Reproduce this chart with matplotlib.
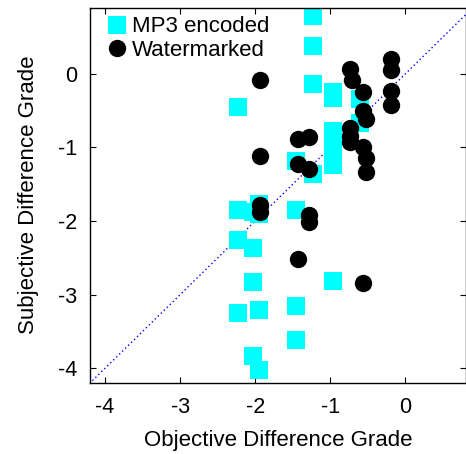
import matplotlib
matplotlib.use("Agg")
import matplotlib.pyplot as plt
import numpy as np

plt.rcParams['font.family'] = ['Liberation Sans', 'DejaVu Sans']

# MP3 encoded (cyan squares)
mp3_odg = [-1.23, -1.23, -1.23, -0.97, -0.97, -2.23, -0.97, -0.97, -0.97, -0.61, -0.61,
           -1.46, -1.23, -2.23, -1.95, -1.95, -2.03, -1.46, -2.23, -2.03, -2.03, -0.97,
           -2.23, -1.95, -1.46, -1.46, -2.03, -1.95]
mp3_sdg = [0.79, 0.38, -0.14, -0.25, -0.33, -0.45, -0.78, -1.01, -1.24, -0.34, -0.67,
           -1.19, -1.36, -1.85, -1.77, -1.91, -1.88, -1.85, -2.26, -2.36, -2.83, -2.81,
           -3.25, -3.21, -3.16, -3.61, -3.84, -4.02]

# Watermarked (black circles)
wm_odg = [-1.93, -0.74, -0.71, -0.57, -0.57, -0.52, -0.19, -0.19, -0.19, -0.19, -0.74,
          -0.74, -0.74, -0.57, -0.52, -0.52, -1.43, -1.28, -1.93, -1.43, -1.28, -1.93,
          -1.93, -1.28, -1.28, -1.43, -0.57]
wm_sdg = [-0.08, 0.06, -0.08, -0.25, -0.50, -0.62, 0.20, 0.05, -0.23, -0.42, -0.74,
          -0.85, -0.93, -0.99, -1.15, -1.34, -0.88, -0.86, -1.12, -1.22, -1.29, -1.78,
          -1.88, -1.92, -2.01, -2.51, -2.84]

x_ticks = [-4, -3, -2, -1, 0]
y_ticks = [-4, -3, -2, -1, 0]
xlim = (-4.2, 0.8)
ylim = (-4.2, 0.9)

fig = plt.figure(figsize=(4.66, 4.54), dpi=100)
ax = fig.add_axes([90/466, 71/454, 375.5/466, 375.5/454])

ax.plot(mp3_odg, mp3_sdg, linestyle='none', marker='s', markersize=13,
        color='#00ffff', markeredgewidth=0, label='MP3 encoded')
ax.plot(wm_odg, wm_sdg, linestyle='none', marker='o', markersize=12.5,
        color='black', markeredgewidth=0, label='Watermarked')

d = np.array([-5, 2])
ax.plot(d, d, linestyle=(0, (1, 2)), color='#0000ff', linewidth=1.0, zorder=1)

ax.set_xlim(*xlim)
ax.set_ylim(*ylim)
ax.set_xticks(x_ticks)
ax.set_yticks(y_ticks)
ax.set_xticklabels([str(t) for t in x_ticks])
ax.set_yticklabels([str(t) for t in y_ticks])
ax.tick_params(direction='in', top=True, right=True, length=4.5, width=0.8,
               labelsize=15.5, pad=10)
ax.tick_params(axis='y', pad=9)
for s in ax.spines.values():
    s.set_linewidth(1.0)

ax.set_xlabel('Objective Difference Grade', fontsize=16, labelpad=9)
ax.set_ylabel('Subjective Difference Grade', fontsize=16, labelpad=14)

ax.legend(loc='upper left', bbox_to_anchor=(0.025, 1.0), frameon=False,
          fontsize=16, handlelength=0.8, handletextpad=0.25, borderaxespad=0.2,
          labelspacing=0.1, borderpad=0.2)

fig.savefig('out.png', dpi=100)
